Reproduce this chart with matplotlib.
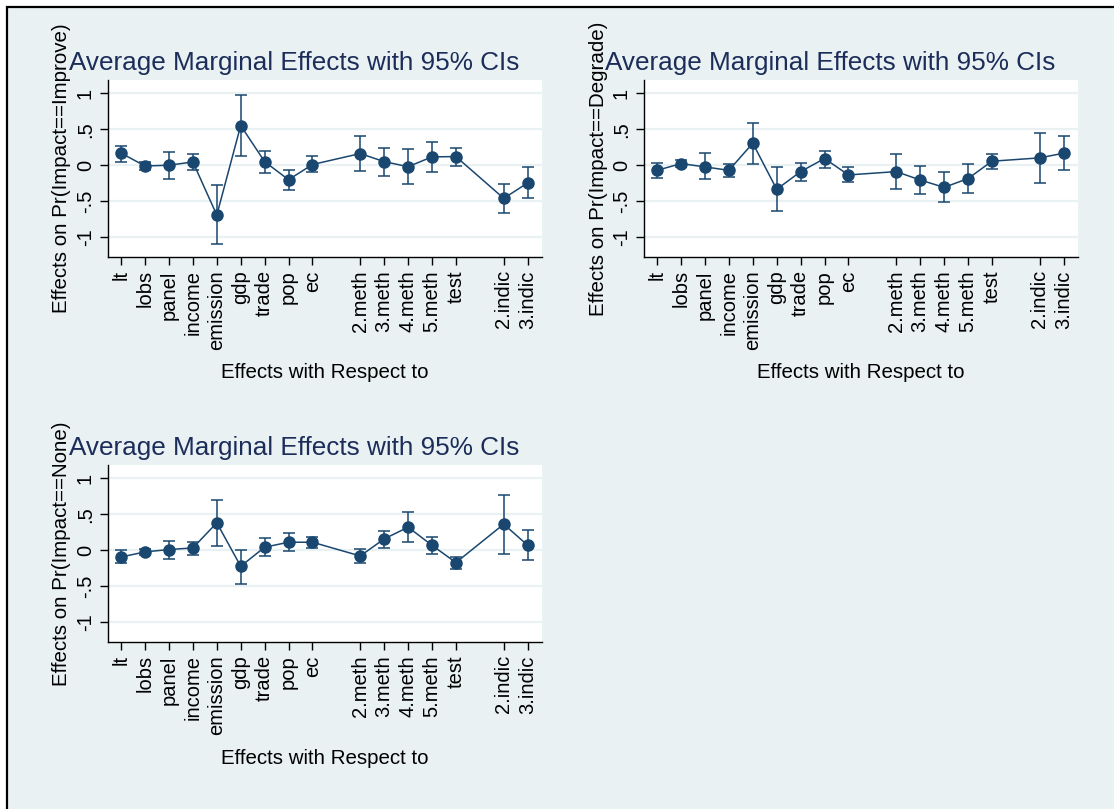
import numpy as np
import matplotlib
matplotlib.use('Agg')
import matplotlib.pyplot as plt
from matplotlib.patches import Rectangle

plt.rcParams['font.family'] = ['Liberation Sans', 'DejaVu Sans']

# categories and their positions (Stata leaves a gap between groups)
labels = ['lt', 'lobs', 'panel', 'income', 'emission', 'gdp', 'trade', 'pop', 'ec',
          '2.meth', '3.meth', '4.meth', '5.meth', 'test', '2.indic', '3.indic']
pos = [1, 2, 3, 4, 5, 6, 7, 8, 9, 11, 12, 13, 14, 15, 17, 18]

# Impact==Improve
imp_est = [0.167, -0.01, 0.0, 0.046, -0.69, 0.55, 0.05, -0.20, 0.01,
           0.162, 0.05, -0.02, 0.116, 0.12, -0.458, -0.245]
imp_lo = [0.05, -0.06, -0.185, -0.065, -1.09, 0.125, -0.105, -0.347, -0.10,
          -0.083, -0.148, -0.255, -0.088, -0.01, -0.657, -0.458]
imp_hi = [0.27, 0.04, 0.19, 0.15, -0.28, 0.977, 0.20, -0.06, 0.13,
          0.40, 0.24, 0.227, 0.32, 0.24, -0.26, -0.023]

# Impact==Degrade
deg_est = [-0.07, 0.023, -0.023, -0.07, 0.305, -0.333, -0.088, 0.093, -0.134,
           -0.088, -0.204, -0.306, -0.185, 0.056, 0.102, 0.167]
deg_lo = [-0.17, -0.03, -0.19, -0.16, 0.023, -0.64, -0.218, -0.032, -0.236,
          -0.333, -0.398, -0.514, -0.39, -0.056, -0.25, -0.065]
deg_hi = [0.03, 0.07, 0.167, 0.014, 0.588, -0.02, 0.037, 0.204, -0.028,
          0.157, -0.014, -0.10, 0.02, 0.157, 0.444, 0.40]

# Impact==None
non_est = [-0.093, -0.023, 0.01, 0.032, 0.38, -0.222, 0.042, 0.111, 0.111,
           -0.079, 0.157, 0.319, 0.069, -0.171, 0.361, 0.069]
non_lo = [-0.176, -0.065, -0.12, -0.065, 0.06, -0.463, -0.083, -0.014, 0.028,
          -0.171, 0.032, 0.116, -0.046, -0.264, -0.051, -0.134]
non_hi = [0.0, 0.02, 0.134, 0.12, 0.70, 0.01, 0.171, 0.236, 0.19,
          0.023, 0.273, 0.523, 0.18, -0.088, 0.769, 0.278]

yticks = [1, 0.5, 0, -0.5, -1]
ytick_labels = ['1', '.5', '0', '-.5', '-1']

bg = '#E9F1F3'
navy = '#1A476F'
title_col = '#1C2D5A'

W, H = 1114, 809
fig = plt.figure(figsize=(W / 100, H / 100), dpi=100, facecolor='white')
fig.patches.append(Rectangle((7 / W, -0.1), 1.2, (H - 7) / H + 0.1, transform=fig.transFigure,
                             facecolor=bg, edgecolor='black', linewidth=1.6, zorder=-10))


def panel(left, top, est, lo, hi, outcome):
    # left/top in pixels
    ax = fig.add_axes([left / W, (H - top - 177) / H, 434 / W, 177 / H])
    ax.set_facecolor('white')
    est = np.array(est)
    err = [est - np.array(lo), np.array(hi) - est]
    ax.errorbar(pos, est, yerr=err, fmt='o-', color=navy, ms=8, lw=1.1,
                elinewidth=1.1, capsize=4, capthick=1.1)
    ax.set_xlim(0.45, 18.6)
    ax.set_ylim(-1.27, 1.18)
    ax.set_yticks(yticks)
    ax.set_yticklabels(ytick_labels, rotation=90, va='center')
    ax.set_xticks(pos)
    ax.set_xticklabels(labels, rotation=90)
    ax.tick_params(labelsize=14.5, length=5.5, width=1, pad=4)
    ax.grid(axis='y', color=bg, lw=1.6)
    ax.set_axisbelow(True)
    for s in ['top', 'right']:
        ax.spines[s].set_visible(False)
    for s in ['left', 'bottom']:
        ax.spines[s].set_linewidth(1)
    ax.text(-46 / 434, 0.5, 'Effects on Pr(Impact==%s)' % outcome, transform=ax.transAxes,
            rotation=90, ha='center', va='center', fontsize=14.8)
    ax.text(0.5, -116 / 177, 'Effects with Respect to', transform=ax.transAxes,
            ha='center', va='center', fontsize=14.8)
    cx = left + 217 - 30.5
    fig.text(cx / W, (H - (top - 10)) / H, 'Average Marginal Effects with 95% CIs',
             ha='center', va='baseline', fontsize=18.8, color=title_col)
    return ax


panel(108, 80, imp_est, imp_lo, imp_hi, 'Improve')
panel(644, 80, deg_est, deg_lo, deg_hi, 'Degrade')
panel(108, 465, non_est, non_lo, non_hi, 'None')

fig.savefig('out.png', dpi=100, facecolor='white')
